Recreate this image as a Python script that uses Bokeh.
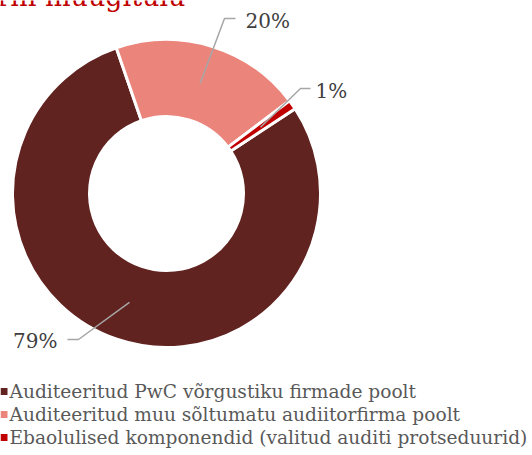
import numpy as np
from bokeh.plotting import figure
from bokeh.models import Range1d
from bokeh.core.properties import value
from bokeh.embed import file_html
from bokeh.resources import INLINE

# ---- data ----
title_text = "Kontserni müügitulu"
categories = [
    "Auditeeritud PwC võrgustiku firmade poolt",
    "Auditeeritud muu sõltumatu audiitorfirma poolt",
    "Ebaolulised komponendid (valitud auditi protseduurid)",
]
shares = [79, 20, 1]
share_labels = ["79%", "20%", "1%"]
colors = ["#602320", "#EB847B", "#C00000"]

# ---- layout (image pixel coordinates, y down) ----
W, H = 532, 455
cx, cy = 166, 193
r_in, r_out = 77, 154
first_angle = 56.6          # clockwise from 12 o'clock
leader_r = 115
elbow_x = [78, 224, 300]
elbow_y = [339, 18, 88]
end_x = [67, 235, 310]
lab_x = [57, 245, 315]
lab_y = [340, 20, 90]
lab_align = ["right", "left", "left"]
leg_y = [391, 414, 437]
FONT = "DejaVu Serif"


def Y(y):
    return H - np.asarray(y, dtype=float)


p = figure(width=W, height=H, x_range=Range1d(0, W), y_range=Range1d(0, H),
           output_backend="svg", toolbar_location=None, min_border=0,
           x_axis_location=None, y_axis_location=None,
           outline_line_color=None, background_fill_color="white",
           border_fill_color="white")
p.grid.visible = False

total = float(sum(shares))
cum = np.cumsum([0] + shares) / total * 360.0
a0 = first_angle + cum[:-1]
a1 = first_angle + cum[1:]

p.annular_wedge(x=cx, y=float(Y(cy)), inner_radius=r_in, outer_radius=r_out,
                start_angle=np.radians(90 - a0), end_angle=np.radians(90 - a1),
                direction="clock", fill_color=colors, line_color="white",
                line_width=3)

# leader lines
mid = np.radians((a0 + a1) / 2)
sx = cx + leader_r * np.sin(mid)
sy = cy - leader_r * np.cos(mid)
xs = [[sx[i], elbow_x[i], end_x[i]] for i in range(3)]
ys = [list(Y([sy[i], elbow_y[i], elbow_y[i]])) for i in range(3)]
p.multi_line(xs=xs, ys=ys, line_color="#A6A6A6", line_width=1.5)

for i in range(3):
    p.text(x=[lab_x[i]], y=list(Y([lab_y[i]])), text=[share_labels[i]],
           text_font=value(FONT), text_font_size="20px", text_color="#404040",
           text_align=lab_align[i], text_baseline="middle")

# legend
p.scatter(x=[3.5] * 3, y=Y(leg_y), marker="square", size=7,
          fill_color=colors, line_color=None)
p.text(x=[9] * 3, y=Y(leg_y), text=categories, text_font=value(FONT),
       text_font_size="18.6px", text_color="#595959", text_baseline="middle")

# title (cropped at the top, as in the reference)
p.text(x=[185], y=list(Y([-4])), text=[title_text], text_font=value(FONT),
       text_font_size="27px", text_color="#C00000", text_align="right",
       text_baseline="alphabetic")

open("out.html", "w").write(file_html(p, INLINE))
